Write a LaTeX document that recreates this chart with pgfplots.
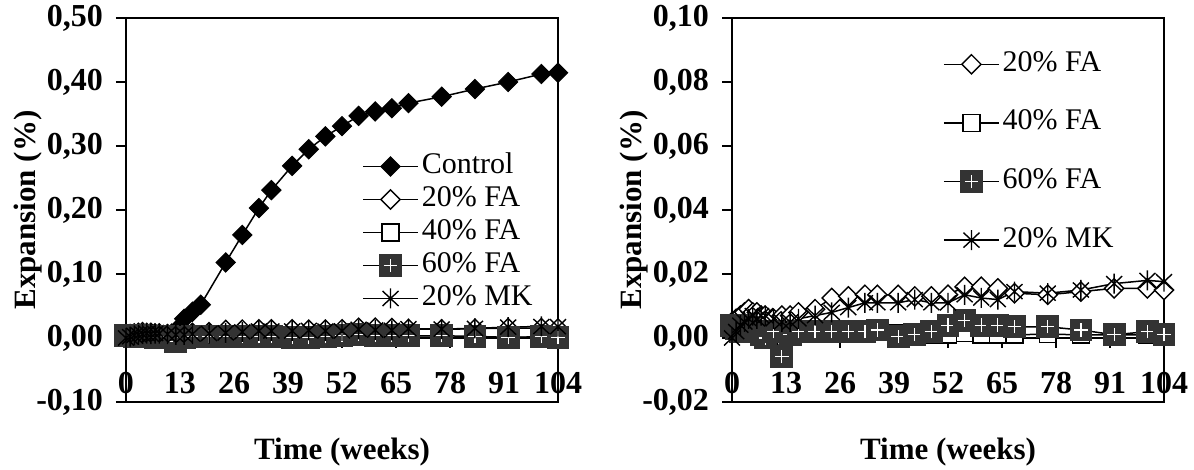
\documentclass[border=0pt]{standalone}
\usepackage{pgfplots}
\usepackage{pgfplotstable}
\pgfplotsset{compat=1.18}
\usepackage{fontspec}
\setmainfont{Liberation Serif}
\definecolor{markgray}{HTML}{333333}

\pgfdeclareplotmark{sqplus}{%
  \pgfpathrectangle{\pgfqpoint{-\pgfplotmarksize}{-\pgfplotmarksize}}{\pgfqpoint{2\pgfplotmarksize}{2\pgfplotmarksize}}%
  \pgfsetfillcolor{markgray}\pgfsetstrokecolor{markgray}%
  \pgfusepathqfillstroke
  \pgfsetstrokecolor{white}\pgfsetlinewidth{0.6pt}%
  \pgfpathmoveto{\pgfqpoint{-0.62\pgfplotmarksize}{0pt}}\pgfpathlineto{\pgfqpoint{0.62\pgfplotmarksize}{0pt}}%
  \pgfpathmoveto{\pgfqpoint{0pt}{-0.62\pgfplotmarksize}}\pgfpathlineto{\pgfqpoint{0pt}{0.62\pgfplotmarksize}}%
  \pgfusepathqstroke
}
\pgfdeclareplotmark{xstar}{%
  \pgfpathmoveto{\pgfqpoint{0pt}{-\pgfplotmarksize}}\pgfpathlineto{\pgfqpoint{0pt}{\pgfplotmarksize}}%
  \pgfpathmoveto{\pgfqpoint{-.8\pgfplotmarksize}{-.75\pgfplotmarksize}}\pgfpathlineto{\pgfqpoint{.8\pgfplotmarksize}{.75\pgfplotmarksize}}%
  \pgfpathmoveto{\pgfqpoint{-.8\pgfplotmarksize}{.75\pgfplotmarksize}}\pgfpathlineto{\pgfqpoint{.8\pgfplotmarksize}{-.75\pgfplotmarksize}}%
  \pgfusepathqstroke
}

\pgfplotstableread{
week ctrl
0 0.000
1 0.002
2 0.001
3 0.003
4 0.002
5 0.004
6 0.003
7 0.004
8 0.004
9 0.005
10 0.006
11 0.007
12 0.010
13 0.018
14 0.030
16 0.041
18 0.052
24 0.118
28 0.161
32 0.203
35 0.231
40 0.269
44 0.295
48 0.315
52 0.331
56 0.347
60 0.354
64 0.359
68 0.367
76 0.377
84 0.389
92 0.400
100 0.4125
104 0.4145
}\ctrltable

\pgfplotstableread{
week fa20 fa40 fa60 mk20
0 0.005 0.003 0.004 0.000
1 0.006 0.004 0.003 0.002
2 0.007 0.003 0.002 0.004
3 0.008 0.004 0.004 0.005
4 0.009 0.003 0.003 0.006
5 0.008 0.002 0.002 0.007
6 0.008 0.002 0.002 0.006
7 0.007 0.002 0.001 0.007
8 0.007 0.001 0.000 0.007
10 0.006 0.002 0.002 0.006
12 0.007 0.002 -0.0058 0.005
14 0.007 0.001 0.001 0.005
16 0.008 0.002 0.002 0.006
20 0.009 0.002 0.002 0.007
24 0.0125 0.002 0.002 0.008
28 0.013 0.002 0.002 0.0095
32 0.0135 0.002 0.002 0.011
35 0.0135 0.002 0.0025 0.011
40 0.0135 0.0015 0.0005 0.011
44 0.013 0.001 0.001 0.012
48 0.013 0.001 0.002 0.011
52 0.0135 0.001 0.004 0.011
56 0.016 0.0015 0.0055 0.0135
60 0.016 0.001 0.004 0.0125
64 0.0155 0.001 0.004 0.012
68 0.014 0.001 0.0035 0.0145
76 0.0135 0.0012 0.0035 0.014
84 0.0145 0.001 0.0025 0.015
92 0.0155 0.001 0.001 0.017
100 0.0155 0.001 0.002 0.018
104 0.015 0.001 0.001 0.0176
}\othtable

\pgfplotsset{
  myaxis/.style={
    scale only axis, width=216pt, height=192pt,
    anchor=south west, clip=false,
    xmin=0, xmax=104, xtick={0,13,...,104},
    hide obscured x ticks=false,
    axis x line*=middle, axis y line*=left,
    axis line style={-, line width=0.8pt},
    tick align=outside, major tick length=5pt,
    tick style={black, line width=0.8pt},
    ticklabel style={font=\fontsize{16}{18}\selectfont\bfseries},
    /pgf/number format/assume math mode=true,
    yticklabel style={xshift=-3pt, /pgf/number format/.cd, fixed, fixed zerofill, precision=2, use comma},
    scaled y ticks=false,
    xticklabel style={anchor=center, yshift=-17.5pt},
    label style={font=\fontsize{15.5}{17}\selectfont\bfseries},
    xlabel={Time (weeks)}, ylabel={Expansion (\%)},
    xlabel style={at={(axis description cs:0.5,-0.130)}, anchor=center},
    ylabel style={at={(axis description cs:-0.227,0.5)}, anchor=center},
    legend cell align=left,
    legend image code/.code={\draw[mark repeat=2,mark phase=2,#1] plot coordinates {(0pt,0pt) (13.75pt,0pt) (27.5pt,0pt)};},
    every axis plot/.append style={black, line width=0.75pt},
  },
  sctrl/.style={mark=square*, mark size=3.4pt, mark options={rotate=45, fill=black, line width=0.5pt}},
  sfa20/.style={mark=square*, mark size=3.4pt, mark options={rotate=45, fill=white, line width=0.7pt}},
  sfa40/.style={mark=square*, mark size=4.2pt, mark options={fill=white, line width=0.7pt}},
  sfa60/.style={mark=sqplus, mark size=5.4pt},
  smk20/.style={mark=xstar, mark size=5pt, mark options={line width=0.7pt}},
}

\begin{document}
\begin{tikzpicture}
\useasboundingbox (0,0) rectangle (597pt,235pt);
\begin{axis}[myaxis, at={(63pt,34pt)},
  ymin=-0.1, ymax=0.5, ytick={-0.1,0,...,0.5},
  legend style={draw=none, fill=none, at={(0.546,0.656)}, anchor=north west, inner sep=0pt,
    font=\fontsize{15}{16}\selectfont, row sep=0.5pt,
    nodes={inner xsep=1.5pt, inner ysep=1pt, text height=10.5pt, text depth=3.5pt}},
]
\draw[line width=0.8pt] (rel axis cs:0,0) rectangle (rel axis cs:1,1);
\addplot[sctrl] table[x=week, y=ctrl] {\ctrltable};
\addlegendentry{Control}
\addplot[sfa20] table[x=week, y=fa20] {\othtable};
\addlegendentry{20\% FA}
\addplot[sfa40] table[x=week, y=fa40] {\othtable};
\addlegendentry{40\% FA}
\addplot[sfa60] table[x=week, y=fa60] {\othtable};
\addlegendentry{60\% FA}
\addplot[smk20] table[x=week, y=mk20] {\othtable};
\addlegendentry{20\% MK}
\end{axis}

\begin{axis}[myaxis, at={(366pt,34pt)},
  ymin=-0.02, ymax=0.1, ytick={-0.02,0,0.02,0.04,0.06,0.08,0.1},
  legend style={draw=none, fill=none, at={(0.488,0.922)}, anchor=north west, inner sep=0pt,
    font=\fontsize{15}{16}\selectfont, row sep=13.3pt,
    nodes={inner xsep=1.5pt, inner ysep=1pt, text height=10.5pt, text depth=3.5pt}},
]
\draw[line width=0.8pt] (rel axis cs:0,0) rectangle (rel axis cs:1,1);
\addplot[sfa20] table[x=week, y=fa20] {\othtable};
\addlegendentry{20\% FA}
\addplot[sfa40] table[x=week, y=fa40] {\othtable};
\addlegendentry{40\% FA}
\addplot[sfa60] table[x=week, y=fa60] {\othtable};
\addlegendentry{60\% FA}
\addplot[smk20] table[x=week, y=mk20] {\othtable};
\addlegendentry{20\% MK}
\end{axis}
\end{tikzpicture}
\end{document}
